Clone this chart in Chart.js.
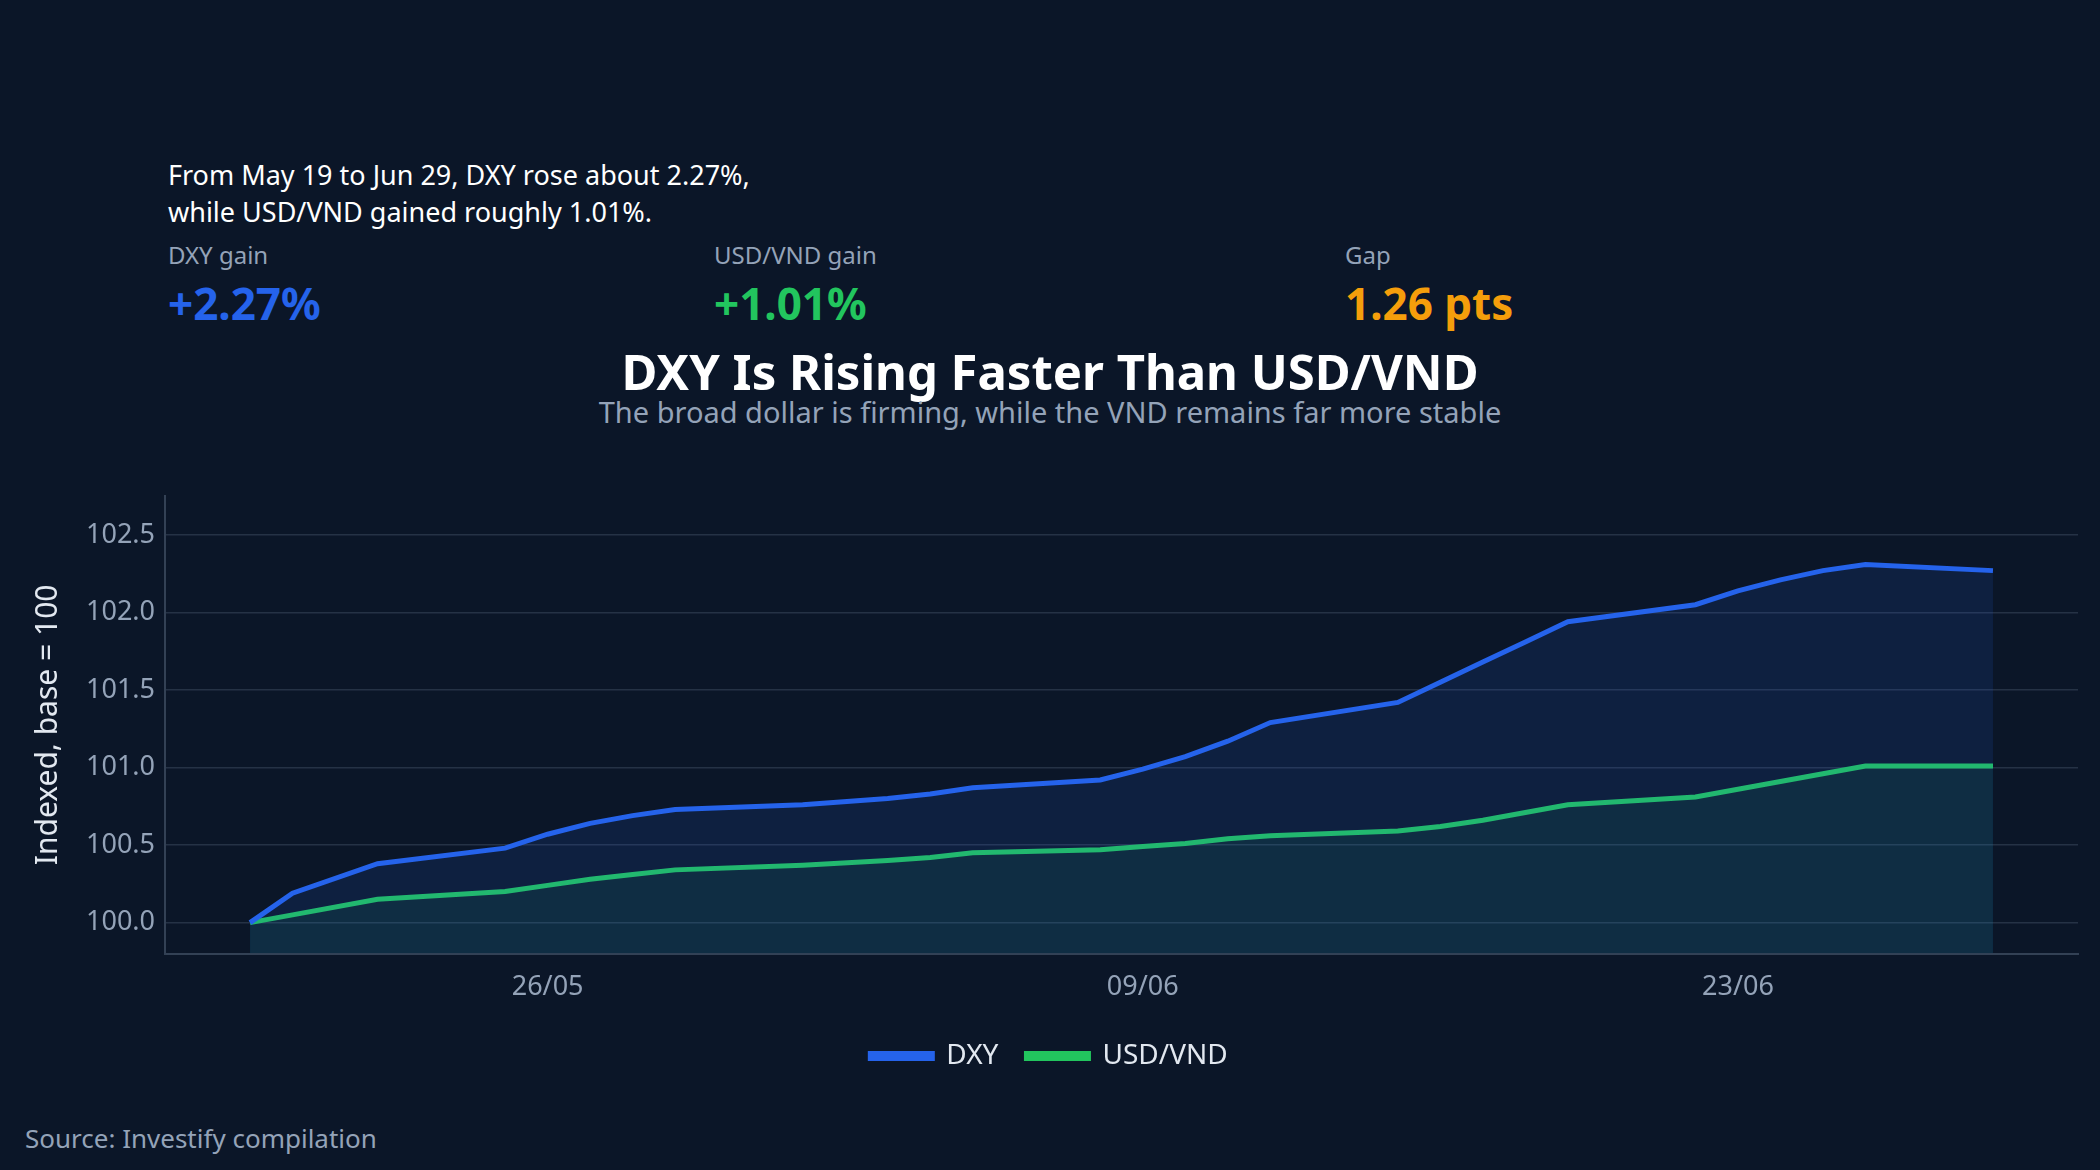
<!DOCTYPE html>
<html>
<head>
<meta charset="utf-8">
<script src="https://cdn.jsdelivr.net/npm/chart.js@4"></script>
<style>
  body { margin: 0; width: 2100px; height: 1170px; background: #0b1628; font-family: "Noto Sans", sans-serif; position: relative; overflow: hidden; }
  .txt { position: absolute; color: #ffffff; }
  #intro { left: 168px; top: 156px; font-size: 27px; line-height: 37px; }
  .stat { position: absolute; top: 238px; }
  .stat .lbl { color: #94a3b8; font-size: 24px; }
  .stat .val { font-size: 44px; font-weight: bold; margin-top: 2px; }
  #title { left: 0; width: 2100px; text-align: center; top: 338px; font-size: 49px; font-weight: bold; }
  #subtitle { left: 0; width: 2100px; text-align: center; top: 392px; font-size: 29px; color: #94a3b8; }
  #source { left: 25px; top: 1120px; font-size: 26px; color: #94a3b8; }
  #wrap { position: absolute; left: 20px; top: 470px; width: 2060px; height: 610px; }
</style>
</head>
<body>
<div class="txt" id="intro">From May 19 to Jun 29, DXY rose about 2.27%,<br>while USD/VND gained roughly 1.01%.</div>
<div class="stat" style="left:168px"><div class="lbl">DXY gain</div><div class="val" style="color:#2563eb">+2.27%</div></div>
<div class="stat" style="left:714px"><div class="lbl">USD/VND gain</div><div class="val" style="color:#22c55e">+1.01%</div></div>
<div class="stat" style="left:1345px"><div class="lbl">Gap</div><div class="val" style="color:#f59e0b">1.26 pts</div></div>
<div class="txt" id="title">DXY Is Rising Faster Than USD/VND</div>
<div class="txt" id="subtitle">The broad dollar is firming, while the VND remains far more stable</div>
<div id="wrap"><canvas id="myChart"></canvas></div>
<div class="txt" id="source">Source: Investify compilation</div>
<script>
const dates = ["19/05", "20/05", "22/05", "25/05", "26/05", "27/05", "28/05", "29/05", "01/06", "03/06", "04/06", "05/06",
    "08/06", "09/06", "10/06", "11/06", "12/06", "15/06", "16/06", "17/06", "18/06", "19/06", "22/06", "23/06",
    "24/06", "25/06", "26/06", "29/06"];
const dxyValues = [100.0, 100.19, 100.38, 100.48, 100.57, 100.64, 100.69, 100.73, 100.76, 100.80, 100.83, 100.87,
    100.92, 100.99, 101.07, 101.17, 101.29, 101.42, 101.55, 101.68, 101.81, 101.94, 102.05, 102.14,
    102.21, 102.27, 102.31, 102.27];
const vndValues = [100.0, 100.05, 100.15, 100.20, 100.24, 100.28, 100.31, 100.34, 100.37, 100.40, 100.42, 100.45,
    100.47, 100.49, 100.51, 100.54, 100.56, 100.59, 100.62, 100.66, 100.71, 100.76, 100.81, 100.86,
    100.91, 100.96, 101.01, 101.01];
const xTickLabels = ["26/05", "09/06", "23/06"];
const yTicks = [100.0, 100.5, 101.0, 101.5, 102.0, 102.5];

// day offset from 19/05
function dayIndex(label) {
    const [d, m] = label.split("/").map(Number);
    const t = Date.UTC(2025, m - 1, d);
    return Math.round((t - Date.UTC(2025, 4, 19)) / 86400000);
}
const xs = dates.map(dayIndex);
const toPoints = vals => vals.map((v, i) => ({ x: xs[i], y: v }));

Chart.defaults.font.family = "'Noto Sans', sans-serif";
Chart.defaults.color = "#94a3b8";

new Chart("myChart", {
    type: "line",
    data: {
        datasets: [{
            label: "DXY",
            data: toPoints(dxyValues),
            borderColor: "#2563eb",
            backgroundColor: "rgba(37,99,235,0.13)",
            borderWidth: 5,
            pointRadius: 0,
            fill: "origin",
            tension: 0
        }, {
            label: "USD/VND",
            data: toPoints(vndValues),
            borderColor: "#22c55e",
            backgroundColor: "rgba(34,197,94,0.09)",
            borderWidth: 5,
            pointRadius: 0,
            fill: "origin",
            tension: 0
        }]
    },
    options: {
        responsive: true,
        maintainAspectRatio: false,
        animation: false,
        layout: { padding: { top: 10, right: 2, bottom: 0 } },
        plugins: {
            legend: {
                position: "bottom",
                labels: { color: "#e2e8f0", font: { size: 28 }, boxWidth: 62, boxHeight: 5, padding: 28 }
            },
            tooltip: { enabled: false }
        },
        scales: {
            x: {
                type: "linear",
                min: -2,
                max: 43,
                afterBuildTicks: axis => { axis.ticks = [7, 21, 35].map(v => ({ value: v })); },
                ticks: {
                    color: "#94a3b8",
                    font: { size: 27 },
                    padding: 10,
                    callback: v => xTickLabels[[7, 21, 35].indexOf(v)]
                },
                grid: { display: false },
                border: { color: "#334155", width: 2 }
            },
            y: {
                min: 99.8,
                max: 102.75,
                afterBuildTicks: axis => { axis.ticks = yTicks.map(v => ({ value: v })); },
                ticks: { color: "#94a3b8", font: { size: 27 }, padding: 10, callback: v => v.toFixed(1) },
                grid: { color: "rgba(100,116,139,0.3)", lineWidth: 1.5, drawTicks: false },
                border: { display: true, color: "#334155", width: 2, dash: [] },
                title: { display: true, text: "Indexed, base = 100", color: "#e2e8f0", font: { size: 30 }, padding: 10 }
            }
        }
    },
    plugins: [{
        id: "dashGrid",
        beforeDraw(chart) {
            chart.options.scales.y.grid.tickBorderDash = [6, 6];
        }
    }]
});
</script>
</body>
</html>
